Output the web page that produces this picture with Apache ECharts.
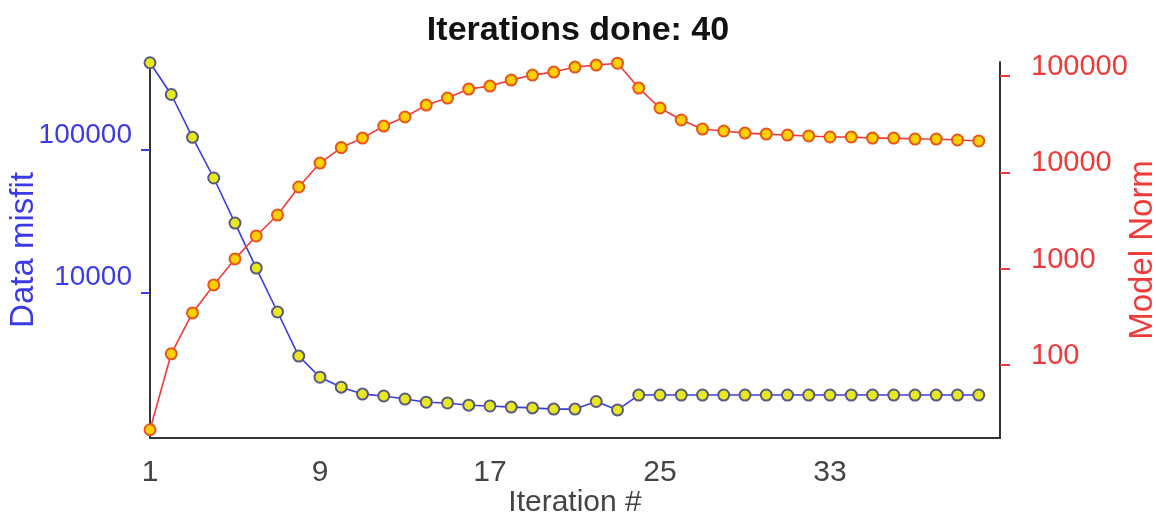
<!DOCTYPE html>
<html>
<head>
<meta charset="utf-8">
<script src="https://cdn.jsdelivr.net/npm/echarts@6/dist/echarts.min.js"></script>
<style>
html,body{margin:0;padding:0;background:#fff;}
#chart{width:1156px;height:518px;}
</style>
</head>
<body>
<div id="chart"></div>
<script>
const titleText = 'Iterations done: 40';
const iterations = [1,2,3,4,5,6,7,8,9,10,11,12,13,14,15,16,17,18,19,20,21,22,23,24,25,26,27,28,29,30,31,32,33,34,35,36,37,38,39,40];
const dataMisfit = [409000,245000,122700,63700,30800,14900,7330,3600,2560,2180,1950,1890,1800,1710,1690,1630,1610,1580,1560,1530,1530,1730,1510,1920,1920,1920,1920,1920,1920,1920,1920,1920,1920,1920,1920,1920,1920,1920,1920,1920];
const modelNorm = [21.3,131,348,679,1265,2190,3610,7060,12500,18100,22700,30300,37600,50000,59100,73300,78700,90800,102400,110000,124000,130000,136000,75100,46600,35000,28200,26900,25600,25000,24400,23900,23300,23300,22700,22700,22200,22200,21700,21200];
const xTicks = [1,9,17,25,33];
const leftTicks = [10000,100000];
const rightTicks = [100,1000,10000,100000];

const chart = echarts.init(document.getElementById('chart'), null, {renderer:'canvas'});
const blue = '#3b3be6';
const red = '#f03a3a';
const font = 'Liberation Sans, Arial, sans-serif';
const plain = v => String(Math.round(v));

chart.setOption({
  animation:false,
  backgroundColor:'#fff',
  title:{
    text:titleText,
    left:'center',
    top:9,
    textStyle:{fontFamily:font,fontWeight:'bold',fontSize:34,color:'#111'}
  },
  grid:{left:150,right:156,top:62,bottom:80,containLabel:false,outerBoundsMode:'none'},
  xAxis:{
    type:'value',min:1,max:41,
    name:'Iteration #',nameLocation:'middle',nameGap:50,nameMoveOverlap:false,
    nameTextStyle:{fontFamily:font,fontSize:30,color:'#444'},
    axisLine:{show:true,onZero:false,lineStyle:{color:'#333',width:2}},
    axisTick:{show:false},
    splitLine:{show:false},
    axisLabel:{customValues:xTicks,formatter:plain,margin:20,fontFamily:font,fontSize:30,color:'#444'}
  },
  yAxis:[{
    type:'log',min:960,max:414000,position:'left',
    name:'Data misfit',nameLocation:'middle',nameGap:110,nameRotate:90,nameMoveOverlap:false,
    nameTextStyle:{fontFamily:font,fontSize:33,color:blue},
    axisLine:{show:true,lineStyle:{color:'#333',width:2}},
    axisTick:{show:true,customValues:leftTicks,length:9,lineStyle:{color:blue,width:2}},
    splitLine:{show:false},
    minorTick:{show:false},
    axisLabel:{customValues:leftTicks,formatter:plain,margin:18,fontFamily:font,fontSize:28,color:blue,verticalAlign:'bottom',lineHeight:30}
  },{
    type:'log',min:17.5,max:140000,position:'right',
    name:'Model Norm',nameLocation:'middle',nameGap:126,nameRotate:90,nameMoveOverlap:false,
    nameTextStyle:{fontFamily:font,fontSize:33,color:red},
    axisLine:{show:true,lineStyle:{color:'#333',width:2}},
    axisTick:{show:true,customValues:rightTicks,length:10,lineStyle:{color:red,width:2}},
    splitLine:{show:false},
    minorTick:{show:false},
    axisLabel:{customValues:rightTicks,formatter:plain,margin:31,fontFamily:font,fontSize:29,color:red,verticalAlign:'bottom',lineHeight:18}
  }],
  series:[{
    name:'Data misfit',type:'line',yAxisIndex:0,
    data:iterations.map((it,i)=>[it,dataMisfit[i]]),
    symbol:'circle',symbolSize:11,
    lineStyle:{color:blue,width:1.6},
    itemStyle:{color:'#e8e81e',borderColor:'#5a5a80',borderWidth:2},
    z:3
  },{
    name:'Model Norm',type:'line',yAxisIndex:1,
    data:iterations.map((it,i)=>[it,modelNorm[i]]),
    symbol:'circle',symbolSize:11,
    lineStyle:{color:red,width:1.6},
    itemStyle:{color:'#ffd000',borderColor:'#e8541a',borderWidth:2},
    z:3
  }]
});
</script>
</body>
</html>
